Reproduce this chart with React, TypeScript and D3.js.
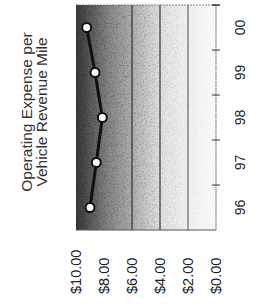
import * as d3 from "d3";
import { useEffect, useRef } from "react";

const years = ["96", "97", "98", "99", "00"];
const expense = [9.0, 8.55, 8.12, 8.64, 9.24];
const valueTicks = [0, 2, 4, 6, 8, 10];
const titleLines = ["Operating Expense per", "Vehicle Revenue Mile"];

const font = "'Liberation Sans', Arial, sans-serif";

const drawChart = (el: SVGSVGElement) => {
	const svg = d3.select(el);
	svg.selectAll("*").remove();

	// chart is turned on its side: values run right->left, years bottom->top
	const top = 5;
	const bottom = 230;
	const left = 76;
	const right = 216;

	const x = d3.scaleLinear().domain([0, 10]).range([right, left]);
	const y = d3.scaleBand().domain(years).range([bottom, top]);

	const defs = svg.append("defs");
	const grad = defs
		.append("linearGradient")
		.attr("id", "bg")
		.attr("x1", "0")
		.attr("x2", "1")
		.attr("y1", "0")
		.attr("y2", "0");
	[
		[0, "#383838"],
		[0.1, "#585858"],
		[0.22, "#838383"],
		[0.38, "#aaaaaa"],
		[0.5, "#c8c8c8"],
		[0.6, "#e2e2e2"],
		[0.78, "#f0f0f0"],
		[1, "#f8f8f8"]
	].forEach(([o, c]) =>
		grad.append("stop").attr("offset", o as number).attr("stop-color", c as string)
	);

	// speckle fades out towards the light side
	const fade = defs
		.append("linearGradient")
		.attr("id", "fade")
		.attr("x1", "0")
		.attr("x2", "1")
		.attr("y1", "0")
		.attr("y2", "0");
	fade.append("stop").attr("offset", 0).attr("stop-color", "#fff");
	fade.append("stop").attr("offset", 0.55).attr("stop-color", "#aaa");
	fade.append("stop").attr("offset", 0.8).attr("stop-color", "#333");
	fade.append("stop").attr("offset", 1).attr("stop-color", "#000");
	defs
		.append("mask")
		.attr("id", "fadeMask")
		.append("rect")
		.attr("x", left)
		.attr("y", top)
		.attr("width", right - left)
		.attr("height", bottom - top)
		.attr("fill", "url(#fade)");

	const noise = defs
		.append("filter")
		.attr("id", "speckle")
		.attr("x", 0)
		.attr("y", 0)
		.attr("width", "100%")
		.attr("height", "100%");
	noise
		.append("feTurbulence")
		.attr("type", "fractalNoise")
		.attr("baseFrequency", 0.9)
		.attr("numOctaves", 2)
		.attr("seed", 3);
	noise
		.append("feColorMatrix")
		.attr("type", "matrix")
		.attr("values", "0 0 0 0 0  0 0 0 0 0  0 0 0 0 0  0 0 0 4 -2");

	const plot = svg.append("g");

	plot
		.append("rect")
		.attr("x", left)
		.attr("y", top)
		.attr("width", right - left)
		.attr("height", bottom - top)
		.attr("fill", "url(#bg)");

	plot
		.append("g")
		.attr("mask", "url(#fadeMask)")
		.append("rect")
		.attr("x", left)
		.attr("y", top)
		.attr("width", right - left)
		.attr("height", bottom - top)
		.attr("fill", "#000")
		.attr("opacity", 0.28)
		.attr("filter", "url(#speckle)");

	// gridlines
	plot
		.selectAll("line.grid")
		.data(valueTicks.filter(v => v > 0 && v < 8))
		.enter()
		.append("line")
		.attr("class", "grid")
		.attr("x1", d => x(d))
		.attr("x2", d => x(d))
		.attr("y1", top)
		.attr("y2", bottom)
		.attr("stroke", d => (d === 2 ? "#666" : "#333"))
		.attr("stroke-width", 1.2);

	// top border and bottom edge
	plot
		.append("line")
		.attr("x1", left)
		.attr("x2", right)
		.attr("y1", top)
		.attr("y2", top)
		.attr("stroke", "#666")
		.attr("stroke-width", 0.8)
		.attr("stroke-dasharray", "2,1");
	plot
		.append("line")
		.attr("x1", left)
		.attr("x2", right)
		.attr("y1", bottom)
		.attr("y2", bottom)
		.attr("stroke", "#555")
		.attr("stroke-width", 1);

	// category axis (on the right)
	plot
		.append("line")
		.attr("x1", right)
		.attr("x2", right)
		.attr("y1", top)
		.attr("y2", bottom)
		.attr("stroke", "#555")
		.attr("stroke-width", 1)
		.attr("stroke-dasharray", "1.5,0.8");

	const bounds = years.map(yr => y(yr) as number).concat([top]);
	plot
		.selectAll("line.tick")
		.data(bounds)
		.enter()
		.append("line")
		.attr("class", "tick")
		.attr("x1", right - 4)
		.attr("x2", right + 4)
		.attr("y1", d => d)
		.attr("y2", d => d)
		.attr("stroke", "#333")
		.attr("stroke-width", 1);

	// line + markers
	const pts = years.map((yr, i) => ({ yr, v: expense[i] }));
	const line = d3
		.line<{ yr: string; v: number }>()
		.x(d => x(d.v))
		.y(d => (y(d.yr) as number) + y.bandwidth() / 2);

	plot
		.append("path")
		.datum(pts)
		.attr("d", line)
		.attr("fill", "none")
		.attr("stroke", "#111")
		.attr("stroke-width", 3);

	plot
		.selectAll("circle")
		.data(pts)
		.enter()
		.append("circle")
		.attr("cx", d => x(d.v))
		.attr("cy", d => (y(d.yr) as number) + y.bandwidth() / 2)
		.attr("r", 4.5)
		.attr("fill", "#fff")
		.attr("stroke", "#111")
		.attr("stroke-width", 2);

	// value labels along the bottom
	svg
		.selectAll("text.val")
		.data(valueTicks)
		.enter()
		.append("text")
		.attr("class", "val")
		.attr("transform", d => `translate(${x(d)}, 294) rotate(-90)`)
		.attr("text-anchor", "start")
		.attr("dominant-baseline", "central")
		.style("font-family", font)
		.style("font-size", "14.5px")
		.attr("fill", "#222")
		.text(d => `$${d.toFixed(2)}`);

	// year labels on the right
	svg
		.selectAll("text.yr")
		.data(years)
		.enter()
		.append("text")
		.attr("class", "yr")
		.attr(
			"transform",
			d => `translate(240, ${(y(d) as number) + y.bandwidth() / 2}) rotate(-90)`
		)
		.attr("text-anchor", "middle")
		.attr("dominant-baseline", "central")
		.style("font-family", font)
		.style("font-size", "14px")
		.attr("fill", "#222")
		.text(d => d);

	// title on the left
	svg
		.selectAll("text.title")
		.data(titleLines)
		.enter()
		.append("text")
		.attr("class", "title")
		.attr("transform", (d, i) => `translate(${26 + i * 15.5}, 112) rotate(-90)`)
		.attr("text-anchor", "middle")
		.attr("dominant-baseline", "central")
		.style("font-family", font)
		.style("font-size", "15.5px")
		.attr("fill", "#333")
		.text(d => d);
};

export default function App() {
	const ref = useRef<SVGSVGElement>(null);

	useEffect(() => {
		if (ref.current) drawChart(ref.current);
	}, []);

	return (
		<svg
			ref={ref}
			width={265}
			height={304}
			style={{ position: "absolute", left: 0, top: 0, background: "#fff" }}
		/>
	);
}
